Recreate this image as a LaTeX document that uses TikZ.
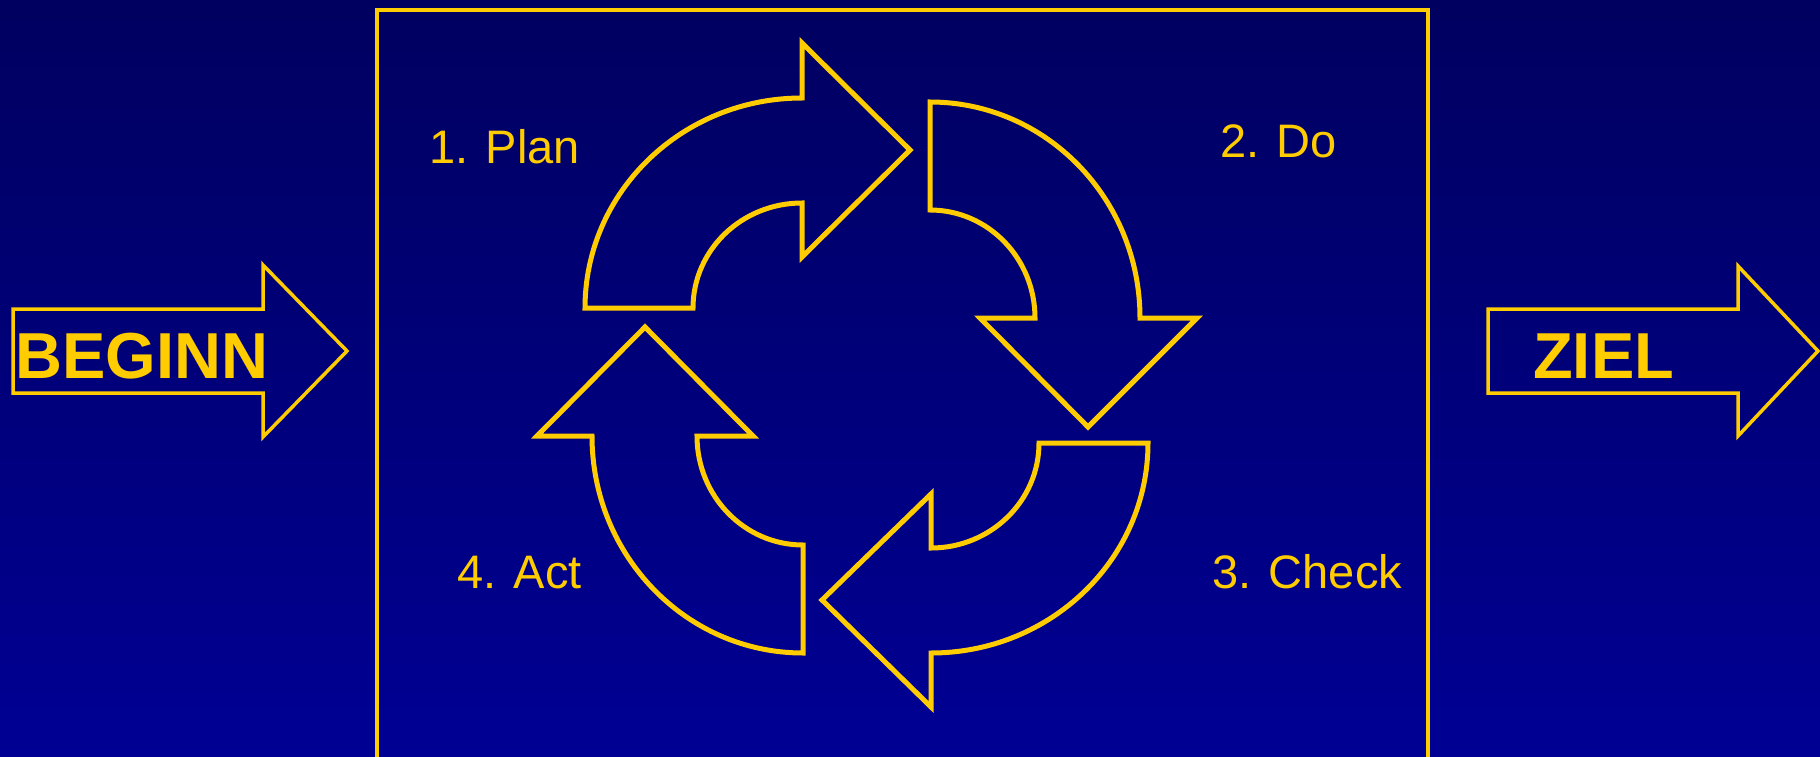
\documentclass[tikz,border=0pt]{standalone}
\usepackage{fontspec}
\setmainfont{Liberation Sans}
\usepackage{tikz}
\usetikzlibrary{positioning}

\definecolor{bgtop}{RGB}{0,0,96}
\definecolor{bgbot}{RGB}{0,0,148}
\definecolor{gold}{RGB}{255,204,0}

\begin{document}
\begin{tikzpicture}[
    x=1bp, y=-1bp,
    cyc/.style={draw=gold, line width=5bp, line join=miter},
    pfeil/.style={draw=gold, line width=3.5bp, line join=miter},
    lbl/.style={text=gold, anchor=base west, inner sep=0pt,
                font=\fontsize{47bp}{52bp}\selectfont},
    big/.style={text=gold, anchor=base west, inner sep=0pt,
                font=\fontsize{65bp}{70bp}\selectfont\bfseries},
  ]
  % background
  \useasboundingbox (0,0) rectangle (1820,757);
  \shade[top color=bgtop, bottom color=bgbot] (0,0) rectangle (1820,757);

  % frame round the cycle
  \draw[gold, line width=3.5bp] (377,757) |- (1428,10) -- (1428,757);

  % start and goal
  \draw[pfeil] (13,309) -- (263,309) -- (263,265) -- (347,351) -- (263,437)
    -- (263,393) -- (13,393) -- cycle;
  \node[big] (beginn) at (15,378) {BEGINN};
  \draw[pfeil] (1488,309) -- (1738,309) -- (1738,266) -- (1818,351) -- (1738,436)
    -- (1738,393) -- (1488,393) -- cycle;
  \node[big] (ziel) at (1533,378) {ZIEL};

  % 1. plan
  \draw[cyc] (585,308) arc[start angle=180, end angle=270, x radius=217, y radius=210]
    -- (802,43) -- (910,150) -- (802,257) -- (802,203)
    arc[start angle=270, end angle=180, x radius=109, y radius=105] -- cycle;
  % 2. do
  \draw[cyc] (930,102) arc[start angle=270, end angle=360, x radius=210, y radius=216]
    -- (1197,318) -- (1088,427) -- (980,318) -- (1035,318)
    arc[start angle=0, end angle=-90, x radius=105, y radius=108] -- cycle;
  % 3. check
  \draw[cyc] (1148,443) arc[start angle=0, end angle=90, x radius=217, y radius=210]
    -- (931,707) -- (822,600) -- (931,494) -- (931,548)
    arc[start angle=90, end angle=0, x radius=108, y radius=105] -- cycle;
  % 4. act
  \draw[cyc] (803,653) arc[start angle=90, end angle=180, x radius=211, y radius=217]
    -- (537,436) -- (645,327) -- (753,436) -- (697,436)
    arc[start angle=180, end angle=90, x radius=106, y radius=109] -- cycle;

  % labels
  \node[lbl] (plan) at (429,163) {1. Plan};
  \node[lbl] (do) at (1220,157) {2. Do};
  \node[lbl] (check) at (1212,588) {3. Check};
  \node[lbl] (act) at (457,588) {4. Act};
\end{tikzpicture}
\end{document}
